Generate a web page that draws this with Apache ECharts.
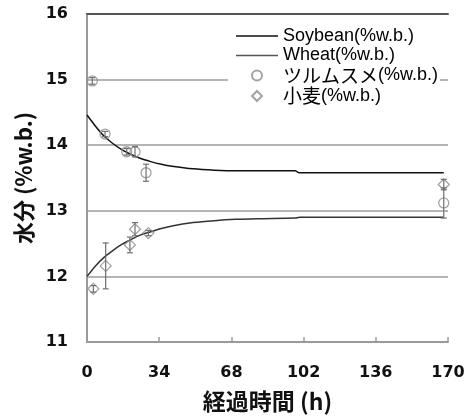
<!DOCTYPE html>
<html>
<head>
<meta charset="utf-8">
<script src="https://cdn.jsdelivr.net/npm/echarts@6/dist/echarts.min.js"></script>
<style>
  html, body { margin: 0; padding: 0; background: #fff; }
  #chart { width: 476px; height: 419px; }
</style>
</head>
<body>
<div id="chart"></div>
<script>
// Elapsed time (h) and fitted moisture curves (%w.b.)
const curveTimes   = [0, 4, 8, 12, 16, 20, 25, 30, 35, 40, 50, 60, 70, 80, 98, 100, 120, 140, 168];
const soybeanCurve = [14.46, 14.29, 14.14, 14.03, 13.94, 13.87, 13.80, 13.75, 13.71, 13.68, 13.64, 13.62, 13.61, 13.61, 13.61, 13.58, 13.58, 13.58, 13.58];
const wheatCurve   = [12.00, 12.16, 12.29, 12.39, 12.48, 12.55, 12.63, 12.68, 12.73, 12.77, 12.82, 12.85, 12.87, 12.88, 12.89, 12.90, 12.90, 12.90, 12.90];

// Measured points: time (h), moisture (%w.b.), error (±)
const soyTimes  = [2.5, 8.5, 18.7, 22.6, 27.8, 168];
const soyValues = [14.98, 14.17, 13.90, 13.90, 13.58, 13.12];
const soyErrors = [0.05, 0.04, 0.05, 0.08, 0.13, 0.23];

const wheatTimes  = [3, 8.8, 20.2, 22.6, 28.9, 168];
const wheatValues = [11.81, 12.16, 12.48, 12.72, 12.66, 13.40];
const wheatErrors = [0.05, 0.35, 0.12, 0.10, 0.04, 0.08];

// Axis ticks
const xTicks = [0, 34, 68, 102, 136, 170];
const yTicks = [11, 12, 13, 14, 15, 16];

const seriesNames = ['Soybean(%w.b.)', 'Wheat(%w.b.)', 'ツルムスメ(%w.b.)', '小麦(%w.b.)'];

const FONT = '"DejaVu Sans", "Noto Sans CJK JP", sans-serif';
const LATIN = '"Liberation Sans", Arial, sans-serif';
const CJK = '"Noto Sans CJK JP", "DejaVu Sans", sans-serif';
const MARK = '#8c8c8c';

function zip(a, b) { return a.map((v, i) => [v, b[i]]); }
function zip3(a, b, c) { return a.map((v, i) => [v, b[i], c[i]]); }

function errorBars(api) {
  const t = api.value(0), v = api.value(1), e = api.value(2);
  const top = api.coord([t, v + e]);
  const bot = api.coord([t, v - e]);
  const cap = 3;
  const style = { stroke: '#6e6e6e', lineWidth: 1.2 };
  return {
    type: 'group',
    children: [
      { type: 'line', shape: { x1: top[0], y1: top[1], x2: bot[0], y2: bot[1] }, style },
      { type: 'line', shape: { x1: top[0] - cap, y1: top[1], x2: top[0] + cap, y2: top[1] }, style },
      { type: 'line', shape: { x1: bot[0] - cap, y1: bot[1], x2: bot[0] + cap, y2: bot[1] }, style }
    ]
  };
}

// Legend labels: Japanese runs in a CJK face, the rest in a Latin face
function legendLabel(name) {
  const m = name.match(/^([^\x00-\x7f]*)(.*)$/);
  return (m[1] ? '{j|' + m[1] + '}' : '') + '{l|' + m[2] + '}';
}

// Legend icons: a thin stroke for fitted curves, hollow marks for measured points
const lineIcon = 'path://M0,0 L42,0 L42,1.5 L0,1.5 Z';
const diamondIcon = 'path://M5,0 L10,5 L5,10 L0,5 Z';

const chart = echarts.init(document.getElementById('chart'), null, { renderer: 'canvas' });

chart.setOption({
  animation: false,
  backgroundColor: '#fff',
  textStyle: { fontFamily: FONT },
  grid: { left: 87, right: 28, top: 14, bottom: 77, containLabel: false },
  legend: {
    data: [
      { name: seriesNames[0], icon: lineIcon, itemStyle: { color: '#111', borderWidth: 0 } },
      { name: seriesNames[1], icon: lineIcon, itemStyle: { color: '#555', borderWidth: 0 } },
      { name: seriesNames[2], icon: 'circle' },
      { name: seriesNames[3], icon: diamondIcon }
    ],
    orient: 'vertical',
    left: 228,
    top: 21,
    padding: [6, 2, 8, 8],
    backgroundColor: '#fff',
    itemWidth: 42,
    itemHeight: 10,
    itemGap: 1.5,
    symbolKeepAspect: true,
    formatter: legendLabel,
    textStyle: {
      color: '#000',
      padding: [0, 0, 0, 0],
      rich: {
        l: { fontFamily: LATIN, fontSize: 18, color: '#000', lineHeight: 20 },
        j: { fontFamily: CJK, fontSize: 19, color: '#000', lineHeight: 20 }
      }
    },
    z: 10
  },
  xAxis: [
    {
      type: 'value',
      min: xTicks[0],
      max: xTicks[xTicks.length - 1],
      interval: 34,
      name: '経過時間 (h)',
      nameLocation: 'middle',
      nameGap: 48,
      nameTextStyle: { fontFamily: CJK, fontSize: 23, fontWeight: 'bold', color: '#111' },
      axisLine: { show: true, lineStyle: { color: '#9a9a9a', width: 2 } },
      axisTick: { show: true, inside: true, length: 5, lineStyle: { color: '#9a9a9a', width: 1.5 } },
      axisLabel: { fontFamily: FONT, fontSize: 16, fontWeight: 'bold', color: '#111', margin: 23 },
      splitLine: { show: false }
    },
    {
      type: 'value',
      position: 'top',
      min: xTicks[0],
      max: xTicks[xTicks.length - 1],
      interval: 34,
      axisLine: { show: true, lineStyle: { color: '#555', width: 2 } },
      axisTick: { show: false },
      axisLabel: { show: false },
      splitLine: { show: false }
    }
  ],
  yAxis: [
    {
      type: 'value',
      min: yTicks[0],
      max: yTicks[yTicks.length - 1],
      interval: 1,
      name: '水分 (%w.b.)',
      nameLocation: 'middle',
      nameGap: 44,
      nameTextStyle: { fontFamily: CJK, fontSize: 22, fontWeight: 'bold', color: '#111' },
      axisLine: { show: true, lineStyle: { color: '#9a9a9a', width: 2 } },
      axisTick: { show: false },
      axisLabel: { fontFamily: FONT, fontSize: 16, fontWeight: 'bold', color: '#111', margin: 19 },
      splitLine: { show: true, lineStyle: { color: '#b4b4b4', width: 2 } }
    },
    {
      type: 'value',
      position: 'right',
      min: yTicks[0],
      max: yTicks[yTicks.length - 1],
      interval: 1,
      axisLine: { show: true, lineStyle: { color: '#9a9a9a', width: 1.5 } },
      axisTick: { show: false },
      axisLabel: { show: false },
      splitLine: { show: false }
    }
  ],
  series: [
    {
      name: seriesNames[0],
      type: 'line',
      data: zip(curveTimes, soybeanCurve),
      smooth: 0.3,
      symbol: 'none',
      lineStyle: { color: '#111', width: 1.5 },
      itemStyle: { color: '#111' },
      z: 3
    },
    {
      name: seriesNames[1],
      type: 'line',
      data: zip(curveTimes, wheatCurve),
      smooth: 0.3,
      symbol: 'none',
      lineStyle: { color: '#333', width: 1.5 },
      itemStyle: { color: '#333' },
      z: 3
    },
    {
      name: seriesNames[2],
      type: 'scatter',
      data: zip(soyTimes, soyValues),
      symbol: 'circle',
      symbolSize: 10,
      itemStyle: { color: 'rgba(255,255,255,0)', borderColor: MARK, borderWidth: 1.3 },
      z: 4
    },
    {
      name: seriesNames[3],
      type: 'scatter',
      data: zip(wheatTimes, wheatValues),
      symbol: 'diamond',
      symbolSize: 11,
      itemStyle: { color: 'rgba(255,255,255,0)', borderColor: MARK, borderWidth: 1.3 },
      z: 4
    },
    {
      type: 'custom',
      data: zip3(soyTimes, soyValues, soyErrors),
      renderItem: (params, api) => errorBars(api),
      z: 5
    },
    {
      type: 'custom',
      data: zip3(wheatTimes, wheatValues, wheatErrors),
      renderItem: (params, api) => errorBars(api),
      z: 5
    }
  ]
});
</script>
</body>
</html>
